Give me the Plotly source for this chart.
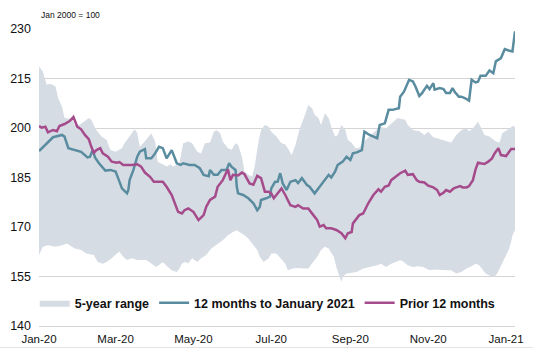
import plotly.graph_objects as go

# --- 5-year range envelope (upper and lower bounds) ---
range_upper_dates = [
    "2020-01-01", "2020-01-04", "2020-01-07", "2020-01-10", "2020-01-14", "2020-01-16", "2020-01-19",
    "2020-01-20", "2020-01-21", "2020-01-27", "2020-01-29", "2020-02-02", "2020-02-06", "2020-02-09",
    "2020-02-11", "2020-02-14", "2020-02-16", "2020-02-19", "2020-02-23", "2020-02-26", "2020-03-01",
    "2020-03-06", "2020-03-08", "2020-03-11", "2020-03-14", "2020-03-16", "2020-03-18", "2020-03-20",
    "2020-03-23", "2020-03-27", "2020-03-29", "2020-04-01", "2020-04-03", "2020-04-10", "2020-04-13",
    "2020-04-15", "2020-04-18", "2020-04-20", "2020-04-23", "2020-04-27", "2020-04-30", "2020-05-04",
    "2020-05-07", "2020-05-10", "2020-05-14", "2020-05-17", "2020-05-19", "2020-05-22", "2020-05-24",
    "2020-05-28", "2020-05-31", "2020-06-03", "2020-06-05", "2020-06-08", "2020-06-10", "2020-06-13",
    "2020-06-16", "2020-06-18", "2020-06-21", "2020-06-23", "2020-06-26", "2020-06-29", "2020-07-01",
    "2020-07-05", "2020-07-09", "2020-07-12", "2020-07-14", "2020-07-17", "2020-07-20", "2020-07-23",
    "2020-07-27", "2020-07-30", "2020-08-02", "2020-08-04", "2020-08-07", "2020-08-09", "2020-08-12",
    "2020-08-15", "2020-08-17", "2020-08-20", "2020-08-22", "2020-08-25", "2020-08-28", "2020-08-30",
    "2020-09-02", "2020-09-05", "2020-09-08", "2020-09-12", "2020-09-16", "2020-09-20", "2020-09-24",
    "2020-09-29", "2020-10-03", "2020-10-08", "2020-10-14", "2020-10-16", "2020-10-20", "2020-10-25",
    "2020-10-29", "2020-11-01", "2020-11-05", "2020-11-10", "2020-11-15", "2020-11-19", "2020-11-23",
    "2020-11-27", "2020-12-01", "2020-12-03", "2020-12-06", "2020-12-10", "2020-12-12", "2020-12-15",
    "2020-12-19", "2020-12-24", "2020-12-27", "2020-12-29", "2021-01-04", "2021-01-06", "2021-01-08",
]
range_upper = [
    218.6, 217.1, 213.1, 213.4, 212.6, 209.0, 206.5,
    204.5, 203.0, 202.7, 200.9, 201.0, 202.0, 203.0,
    202.5, 199.9, 198.9, 197.4, 196.4, 193.3, 192.8,
    193.9, 195.4, 197.0, 198.4, 199.6, 198.5, 194.3,
    195.5, 197.4, 198.4, 195.9, 189.8, 188.3, 189.0,
    188.3, 188.8, 189.3, 195.4, 195.9, 195.4, 192.8,
    192.3, 195.4, 195.6, 198.9, 199.4, 198.4, 195.9,
    193.9, 193.4, 195.4, 194.9, 191.3, 186.8, 185.8,
    185.3, 188.3, 195.9, 199.4, 200.9, 200.4, 198.9,
    197.4, 195.4, 195.0, 193.9, 191.8, 194.9, 199.4,
    203.5, 207.0, 206.0, 204.0, 203.0, 200.9, 204.5,
    203.0, 200.4, 197.4, 197.8, 200.9, 199.5, 196.4,
    195.5, 193.9, 194.0, 196.0, 197.4, 198.9, 200.4,
    199.9, 201.4, 203.0, 202.5, 200.9, 199.4, 199.0,
    197.9, 198.9, 197.2, 196.6, 195.9, 195.6, 197.9,
    199.4, 199.9, 199.0, 199.9, 201.9, 200.4, 197.9,
    197.4, 195.9, 195.6, 198.4, 199.9, 200.6, 200.4,
]

range_lower_dates = [
    "2020-01-01", "2020-01-04", "2020-01-08", "2020-01-14", "2020-01-19", "2020-01-23", "2020-01-25",
    "2020-01-29", "2020-02-03", "2020-02-07", "2020-02-13", "2020-02-16", "2020-02-20", "2020-02-23",
    "2020-02-27", "2020-03-02", "2020-03-04", "2020-03-07", "2020-03-10", "2020-03-14", "2020-03-18",
    "2020-03-23", "2020-03-25", "2020-03-29", "2020-04-02", "2020-04-07", "2020-04-11", "2020-04-14",
    "2020-04-18", "2020-04-20", "2020-04-22", "2020-04-24", "2020-04-27", "2020-04-30", "2020-05-04",
    "2020-05-07", "2020-05-11", "2020-05-15", "2020-05-19", "2020-05-24", "2020-05-28", "2020-06-01",
    "2020-06-04", "2020-06-06", "2020-06-10", "2020-06-13", "2020-06-16", "2020-06-20", "2020-06-22",
    "2020-06-25", "2020-06-29", "2020-07-01", "2020-07-05", "2020-07-08", "2020-07-12", "2020-07-14",
    "2020-07-18", "2020-07-22", "2020-07-26", "2020-07-30", "2020-08-02", "2020-08-06", "2020-08-09",
    "2020-08-12", "2020-08-15", "2020-08-19", "2020-08-21", "2020-08-24", "2020-08-25", "2020-08-26",
    "2020-08-29", "2020-09-02", "2020-09-06", "2020-09-11", "2020-09-16", "2020-09-22", "2020-09-25",
    "2020-09-29", "2020-10-03", "2020-10-07", "2020-10-10", "2020-10-12", "2020-10-16", "2020-10-20",
    "2020-10-24", "2020-10-28", "2020-11-02", "2020-11-06", "2020-11-10", "2020-11-15", "2020-11-19",
    "2020-11-23", "2020-11-27", "2020-12-01", "2020-12-05", "2020-12-08", "2020-12-11", "2020-12-14",
    "2020-12-16", "2020-12-21", "2020-12-23", "2020-12-25", "2020-12-28", "2020-12-31", "2021-01-03",
    "2021-01-05", "2021-01-06", "2021-01-08",
]
range_lower = [
    161.5, 164.0, 164.5, 164.0, 164.5, 165.0, 164.5,
    163.5, 163.0, 162.0, 161.5, 159.4, 158.9, 159.4,
    160.5, 162.0, 162.5, 161.0, 160.0, 160.5, 160.0,
    160.0, 160.0, 158.9, 157.9, 159.4, 157.9, 156.9,
    156.4, 157.4, 158.9, 159.4, 159.0, 160.5, 159.4,
    160.5, 161.5, 163.5, 164.5, 166.0, 167.5, 168.5,
    169.0, 168.5, 167.5, 166.5, 165.0, 163.0, 161.0,
    159.4, 160.5, 162.0, 162.0, 160.5, 158.9, 156.9,
    157.4, 157.6, 157.4, 157.4, 158.9, 161.0, 163.0,
    164.0, 163.5, 161.0, 157.9, 154.4, 153.4, 154.9,
    155.9, 156.1, 156.4, 157.4, 157.9, 158.4, 158.9,
    157.9, 158.9, 159.4, 159.9, 159.6, 158.4, 157.9,
    158.1, 157.9, 156.9, 157.1, 157.1, 156.9, 156.9,
    155.9, 156.4, 157.4, 158.1, 158.9, 158.4, 156.9,
    155.9, 154.9, 154.9, 155.9, 157.9, 160.5, 163.0,
    165.5, 167.5, 169.0,
]

# --- 12 months to January 2021 ---
current_dates = [
    "2020-01-01", "2020-01-07", "2020-01-12", "2020-01-19", "2020-01-21", "2020-01-24", "2020-01-29",
    "2020-02-03", "2020-02-08", "2020-02-10", "2020-02-12", "2020-02-14", "2020-02-17", "2020-02-19",
    "2020-02-22", "2020-02-26", "2020-03-01", "2020-03-03", "2020-03-06", "2020-03-10", "2020-03-11",
    "2020-03-12", "2020-03-15", "2020-03-18", "2020-03-20", "2020-03-24", "2020-03-25", "2020-03-29",
    "2020-04-01", "2020-04-04", "2020-04-07", "2020-04-10", "2020-04-14", "2020-04-18", "2020-04-21",
    "2020-04-23", "2020-04-28", "2020-05-02", "2020-05-06", "2020-05-09", "2020-05-13", "2020-05-14",
    "2020-05-17", "2020-05-20", "2020-05-23", "2020-05-27", "2020-05-29", "2020-05-31", "2020-06-03",
    "2020-06-04", "2020-06-05", "2020-06-09", "2020-06-13", "2020-06-17", "2020-06-20", "2020-06-22",
    "2020-06-23", "2020-06-27", "2020-06-30", "2020-07-01", "2020-07-04", "2020-07-06", "2020-07-08",
    "2020-07-10", "2020-07-13", "2020-07-16", "2020-07-20", "2020-07-22", "2020-07-25", "2020-07-29",
    "2020-07-31", "2020-08-04", "2020-08-08", "2020-08-12", "2020-08-15", "2020-08-17", "2020-08-20",
    "2020-08-22", "2020-08-26", "2020-08-29", "2020-09-01", "2020-09-03", "2020-09-06", "2020-09-10",
    "2020-09-12", "2020-09-16", "2020-09-22", "2020-09-24", "2020-09-28", "2020-10-01", "2020-10-04",
    "2020-10-09", "2020-10-10", "2020-10-13", "2020-10-15", "2020-10-17", "2020-10-20", "2020-10-22",
    "2020-10-25", "2020-10-27", "2020-10-31", "2020-11-02", "2020-11-05", "2020-11-06", "2020-11-10",
    "2020-11-13", "2020-11-15", "2020-11-18", "2020-11-20", "2020-11-22", "2020-11-25", "2020-11-27",
    "2020-11-30", "2020-12-03", "2020-12-05", "2020-12-08", "2020-12-10", "2020-12-12", "2020-12-16",
    "2020-12-19", "2020-12-22", "2020-12-24", "2020-12-28", "2020-12-31", "2021-01-03", "2021-01-06",
    "2021-01-08",
]
current_12m = [
    193.0, 195.4, 197.2, 197.9, 197.4, 193.9, 193.3,
    192.8, 191.1, 191.3, 193.3, 191.0, 189.3, 188.3,
    187.1, 187.3, 186.8, 184.8, 181.7, 180.2, 181.2,
    184.2, 187.3, 191.3, 192.8, 193.6, 190.8, 190.8,
    192.3, 194.3, 193.9, 190.8, 193.3, 189.3, 188.8,
    189.3, 188.8, 188.8, 187.8, 185.8, 185.4, 187.3,
    185.8, 185.8, 187.3, 187.3, 189.3, 188.2, 187.3,
    182.2, 180.2, 179.7, 178.7, 177.2, 175.1, 176.1,
    178.2, 178.7, 179.2, 181.7, 183.7, 183.7, 186.3,
    183.2, 181.2, 183.7, 184.2, 183.3, 184.8, 182.7,
    182.2, 180.2, 182.2, 184.2, 185.8, 185.0, 186.8,
    188.8, 189.8, 191.3, 190.3, 192.3, 192.6, 193.3,
    198.9, 197.9, 196.9, 200.9, 201.4, 205.5, 205.5,
    206.0, 209.5, 211.0, 212.6, 214.6, 214.1, 212.6,
    209.7, 210.5, 212.8, 211.8, 213.6, 211.6, 212.1,
    211.8, 210.6, 210.6, 212.1, 210.8, 209.5, 209.5,
    209.0, 208.3, 214.6, 213.8, 214.0, 215.8, 215.8,
    217.4, 216.6, 220.2, 221.2, 223.9, 223.5, 223.2,
    229.3,
]

# --- Prior 12 months ---
prior_dates = [
    "2020-01-01", "2020-01-03", "2020-01-06", "2020-01-08", "2020-01-12", "2020-01-15", "2020-01-17",
    "2020-01-21", "2020-01-25", "2020-01-28", "2020-01-31", "2020-02-03", "2020-02-06", "2020-02-09",
    "2020-02-11", "2020-02-13", "2020-02-15", "2020-02-18", "2020-02-20", "2020-02-24", "2020-02-27",
    "2020-03-02", "2020-03-04", "2020-03-07", "2020-03-14", "2020-03-18", "2020-03-21", "2020-03-24",
    "2020-03-28", "2020-03-31", "2020-04-07", "2020-04-10", "2020-04-14", "2020-04-17", "2020-04-19",
    "2020-04-22", "2020-04-24", "2020-04-27", "2020-05-01", "2020-05-05", "2020-05-09", "2020-05-11",
    "2020-05-14", "2020-05-18", "2020-05-20", "2020-05-24", "2020-05-28", "2020-05-30", "2020-06-01",
    "2020-06-05", "2020-06-08", "2020-06-10", "2020-06-14", "2020-06-17", "2020-06-20", "2020-06-23",
    "2020-06-26", "2020-06-29", "2020-07-01", "2020-07-03", "2020-07-06", "2020-07-09", "2020-07-12",
    "2020-07-16", "2020-07-20", "2020-07-22", "2020-07-26", "2020-07-30", "2020-08-03", "2020-08-06",
    "2020-08-08", "2020-08-11", "2020-08-13", "2020-08-17", "2020-08-21", "2020-08-25", "2020-08-28",
    "2020-08-30", "2020-09-02", "2020-09-03", "2020-09-08", "2020-09-11", "2020-09-15", "2020-09-19",
    "2020-09-23", "2020-09-25", "2020-09-28", "2020-10-01", "2020-10-03", "2020-10-07", "2020-10-10",
    "2020-10-14", "2020-10-16", "2020-10-20", "2020-10-23", "2020-10-25", "2020-10-29", "2020-11-01",
    "2020-11-05", "2020-11-08", "2020-11-10", "2020-11-13", "2020-11-15", "2020-11-18", "2020-11-21",
    "2020-11-23", "2020-11-26", "2020-11-28", "2020-12-01", "2020-12-03", "2020-12-06", "2020-12-08",
    "2020-12-10", "2020-12-12", "2020-12-15", "2020-12-18", "2020-12-21", "2020-12-23", "2020-12-26",
    "2020-12-28", "2021-01-01", "2021-01-05", "2021-01-08",
]
prior_12m = [
    200.6, 200.1, 200.4, 198.7, 199.4, 199.0, 200.6,
    201.2, 202.1, 203.3, 200.4, 199.6, 197.9, 196.6,
    194.3, 192.5, 193.3, 193.9, 192.3, 191.3, 189.8,
    189.5, 189.7, 188.8, 188.8, 189.0, 188.3, 186.5,
    185.2, 183.7, 183.7, 182.2, 179.7, 176.6, 174.6,
    174.1, 175.1, 175.6, 174.6, 172.1, 173.6, 176.1,
    178.2, 179.2, 182.2, 184.2, 187.5, 184.2, 185.8,
    185.6, 186.5, 186.0, 183.2, 182.8, 185.5, 184.8,
    180.7, 180.7, 180.2, 178.7, 180.2, 181.7, 179.7,
    176.6, 176.1, 176.6, 175.6, 175.6, 173.6, 172.1,
    170.1, 170.6, 169.6, 169.6, 169.1, 168.1, 166.6,
    168.1, 168.5, 171.1, 173.6, 174.1, 177.2, 179.7,
    181.4, 180.7, 182.2, 182.6, 184.2, 185.5, 186.3,
    187.1, 185.8, 186.0, 184.2, 183.7, 183.5, 182.5,
    182.0, 181.2, 179.7, 180.4, 181.2, 180.7, 181.7,
    182.0, 182.4, 182.0, 182.0, 182.4, 184.2, 187.3,
    189.5, 189.3, 189.1, 189.8, 190.8, 192.3, 193.9,
    191.8, 191.5, 193.6, 193.6,
]

# Axis settings
y_ticks = [140, 155, 170, 185, 200, 215, 230]
x_ticks = ["2020-01-01", "2020-03-01", "2020-05-01", "2020-07-01",
           "2020-09-01", "2020-11-01", "2021-01-01"]

BAND = "#d6dce4"
TEAL = "#5a8ca0"
PLUM = "#a54b8c"
GRID = "#d4d4d4"
FONT = "Liberation Sans, Arial, sans-serif"

fig = go.Figure()

# Envelope drawn as a closed polygon: upper bound forward, lower bound back
fig.add_trace(go.Scatter(
    x=range_upper_dates + range_lower_dates[::-1],
    y=range_upper + range_lower[::-1],
    fill="toself", fillcolor=BAND, mode="lines",
    line=dict(width=0, color=BAND),
    name="5-year range", hoverinfo="skip",
))
fig.add_trace(go.Scatter(
    x=current_dates, y=current_12m, mode="lines",
    line=dict(color=TEAL, width=2.5),
    name="12 months to January 2021",
))
fig.add_trace(go.Scatter(
    x=prior_dates, y=prior_12m, mode="lines",
    line=dict(color=PLUM, width=2.5),
    name="Prior 12 months",
))

fig.update_layout(
    width=533, height=348,
    margin=dict(l=39, r=18, t=29, b=22, autoexpand=False),
    paper_bgcolor="white", plot_bgcolor="white",
    font=dict(family=FONT, color="#111111"),
    showlegend=True,
    legend=dict(
        orientation="h", x=0.97, xanchor="right",
        y=0.077, yanchor="middle",
        bgcolor="rgba(0,0,0,0)",
        font=dict(family=FONT, size=12.5, color="#111111", weight="bold"),
        itemwidth=30,
    ),
    xaxis=dict(
        type="date",
        range=["2020-01-01", "2021-01-08"],
        tickvals=x_ticks, tickformat="%b-%y",
        showgrid=False, zeroline=False,
        showline=True, linecolor=GRID, linewidth=1,
        ticks="", ticklabelstandoff=2,
        tickfont=dict(size=11.5, color="#111111"),
    ),
    yaxis=dict(
        range=[140, 230], tickvals=y_ticks,
        showgrid=True, gridcolor=GRID, gridwidth=1,
        zeroline=False, showline=False,
        ticks="", ticklabelstandoff=7,
        tickfont=dict(size=12.5, color="#111111"),
    ),
    annotations=[dict(
        text="Jan 2000 = 100", xref="paper", yref="paper",
        x=0, y=1.046, xanchor="left", yanchor="middle",
        showarrow=False, font=dict(size=8.5, color="#111111"),
    )],
    shapes=[dict(
        type="line", xref="paper", yref="paper",
        x0=-39 / 476, x1=(533 - 39) / 476, y0=-21.5 / 297, y1=-21.5 / 297,
        line=dict(color="#e4e4e4", width=1), layer="below",
    )],
)

fig.write_html("out.html")
